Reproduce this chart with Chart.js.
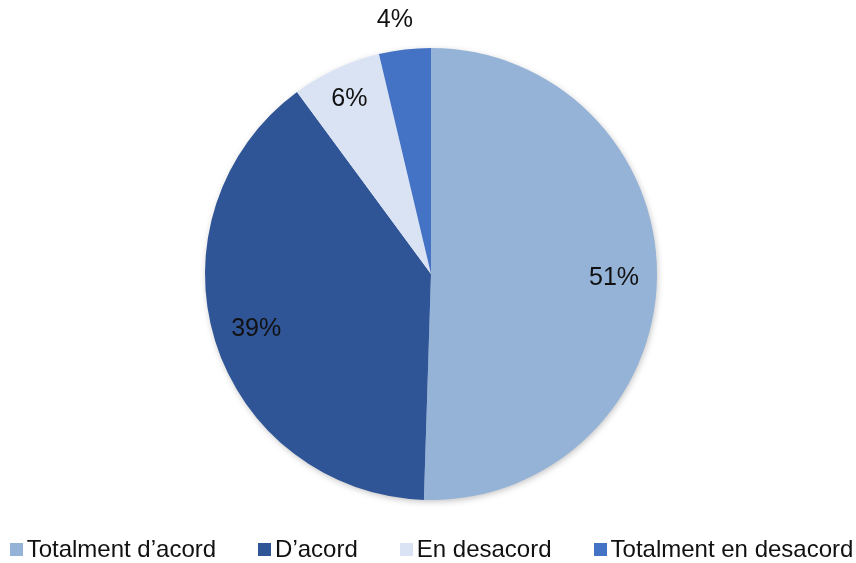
<!DOCTYPE html>
<html>
<head>
<meta charset="utf-8">
<script src="https://cdn.jsdelivr.net/npm/chart.js@4/dist/chart.umd.min.js"></script>
<style>
    html, body { margin: 0; padding: 0; background: #fff; }
    .wrap { position: relative; width: 856px; height: 563px; }
    #pie { position: absolute; left: 0; top: 0; }
    .legend {
        position: absolute; left: 0; top: 537px; width: 863px;
        display: flex; justify-content: center; align-items: center; gap: 42px;
        font: 24px "Liberation Sans", Arial, sans-serif; line-height: 24px; color: #111;
    }
    .legend span { display: flex; align-items: center; white-space: nowrap; }
    .legend i { display: inline-block; width: 13px; height: 13px; margin-right: 4px; }
</style>
</head>
<body>
<div class="wrap">
    <canvas id="pie" width="856" height="563"></canvas>
    <div class="legend" id="legend"></div>
</div>
<script>
const categories = ['Totalment d\u2019acord', 'D\u2019acord', 'En desacord', 'Totalment en desacord'];
const shares = [50.5, 39.4, 6.4, 3.7];
const colours = ['#95B3D7', '#2F5597', '#DAE3F3', '#4472C4'];

document.getElementById('legend').innerHTML = categories
    .map((name, i) => `<span><i style="background:${colours[i]}"></i>${name}</span>`)
    .join('');

// soft shadow under the whole pie
const pieShadow = {
    id: 'pieShadow',
    beforeDatasetsDraw(chart) {
        const arc = chart.getDatasetMeta(0).data[0];
        if (!arc) return;
        const { ctx } = chart;
        ctx.save();
        ctx.shadowColor = 'rgba(0,0,0,0.28)';
        ctx.shadowBlur = 7;
        ctx.shadowOffsetX = 1;
        ctx.shadowOffsetY = 2;
        ctx.fillStyle = '#fff';
        ctx.beginPath();
        ctx.arc(arc.x, arc.y, arc.outerRadius - 1, 0, Math.PI * 2);
        ctx.fill();
        ctx.restore();
    },
};

// percentage labels, small slices pushed outward
const sliceLabels = {
    id: 'sliceLabels',
    afterDraw(chart) {
        const { ctx } = chart;
        ctx.save();
        ctx.font = '25px "Liberation Sans", Arial, sans-serif';
        ctx.fillStyle = '#111';
        ctx.textAlign = 'center';
        ctx.textBaseline = 'middle';
        chart.getDatasetMeta(0).data.forEach((arc, i) => {
            const v = shares[i];
            let mid = (arc.startAngle + arc.endAngle) / 2;
            let r = arc.outerRadius * 0.81;
            if (v < 5) { r = arc.outerRadius + 31; mid -= 0.025; }
            else if (v < 10) r = arc.outerRadius * 0.86;
            ctx.fillText(Math.round(v) + '%', arc.x + Math.cos(mid) * r, arc.y + Math.sin(mid) * r + 1);
        });
        ctx.restore();
    },
};

new Chart(document.getElementById('pie'), {
    type: 'pie',
    data: {
        labels: categories,
        datasets: [{
            data: shares,
            backgroundColor: colours,
            borderWidth: 0,
        }],
    },
    options: {
        responsive: false,
        animation: false,
        devicePixelRatio: 1,
        layout: { padding: { left: 6, right: 0, top: 48, bottom: 63 } },
        plugins: { legend: { display: false }, tooltip: { enabled: false } },
    },
    plugins: [pieShadow, sliceLabels],
});
</script>
</body>
</html>
